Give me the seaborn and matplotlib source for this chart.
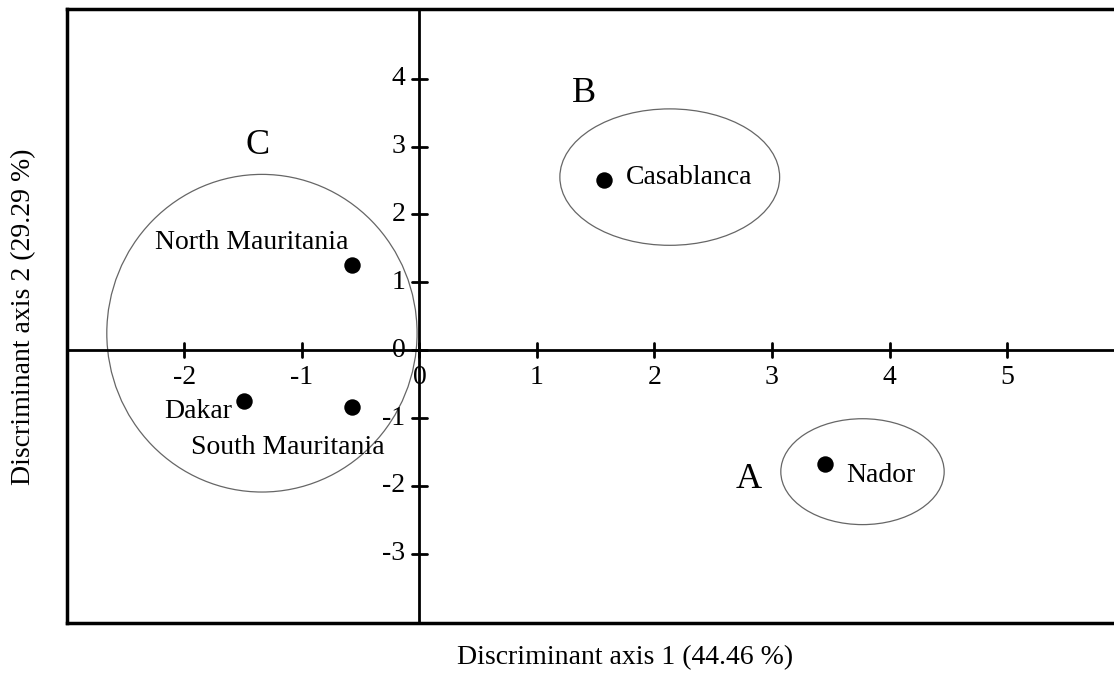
import matplotlib
matplotlib.use("Agg")
import matplotlib.pyplot as plt
from matplotlib.patches import Ellipse
import seaborn as sns
import pandas as pd

# Data
sites = ["Casablanca", "Nador", "North Mauritania", "South Mauritania", "Dakar"]
axis1 = [1.57, 3.45, -0.57, -0.57, -1.49]
axis2 = [2.50, -1.68, 1.25, -0.84, -0.75]

groups = ["A", "B", "C"]
ell_cx = [3.77, 2.13, -1.34]
ell_cy = [-1.79, 2.55, 0.25]
ell_w = [1.39, 1.87, 2.64]
ell_h = [1.56, 2.01, 4.68]

x_ticks = [-2, -1, 0, 1, 2, 3, 4, 5]
y_ticks = [-3, -2, -1, 0, 1, 2, 3, 4]

df = pd.DataFrame({"site": sites, "x": axis1, "y": axis2})

sns.set_style("ticks")
plt.rcParams["font.family"] = ["Liberation Serif", "DejaVu Serif"]
plt.rcParams["text.color"] = "black"
plt.rcParams["axes.labelcolor"] = "black"

fig = plt.figure(figsize=(11.14, 6.75), dpi=100)
ax = fig.add_axes([0.060, 0.077, 0.940, 0.910])

sns.scatterplot(data=df, x="x", y="y", color="black", s=140, edgecolor="black",
                linewidth=0, ax=ax, zorder=5, legend=False)

for cx, cy, w, h in zip(ell_cx, ell_cy, ell_w, ell_h):
    ax.add_patch(Ellipse((cx, cy), w, h, fill=False, edgecolor="#666666", lw=0.9, zorder=3))

fs = 20
# site labels
ax.text(1.76, 2.55, "Casablanca", fontsize=fs, va="center", ha="left")
ax.text(3.63, -1.85, "Nador", fontsize=fs, va="center", ha="left")
ax.text(-0.60, 1.59, "North Mauritania", fontsize=fs, va="center", ha="right")
ax.text(-2.17, -0.91, "Dakar", fontsize=fs, va="center", ha="left")
ax.text(-0.30, -1.44, "South Mauritania", fontsize=fs, va="center", ha="right")

# group letters
ax.text(2.80, -1.91, "A", fontsize=26, va="center", ha="center")
ax.text(1.40, 3.78, "B", fontsize=26, va="center", ha="center")
ax.text(-1.38, 3.01, "C", fontsize=26, va="center", ha="center")

ax.set_xlim(-3.0, 5.91)
ax.set_ylim(-4.02, 5.03)

# central axes lines with ticks
ax.axhline(0, color="black", lw=2, zorder=4)
ax.axvline(0, color="black", lw=2, zorder=4)
for t in x_ticks:
    ax.plot([t, t], [-0.1, 0.1], color="black", lw=2, zorder=4)
    ax.text(t, -0.22, str(t), fontsize=fs, ha="center", va="top")
for t in y_ticks:
    ax.plot([-0.065, 0.065], [t, t], color="black", lw=2, zorder=4)
    ax.text(-0.12, t, str(t), fontsize=fs, ha="right", va="center")

ax.set_xticks([])
ax.set_yticks([])
ax.set_xlabel("")
ax.set_ylabel("")
for side in ["left", "top", "bottom"]:
    ax.spines[side].set_linewidth(2.5)
    ax.spines[side].set_color("black")
ax.spines["right"].set_visible(False)

fig.text(625 / 1114, 1 - 658 / 675, "Discriminant axis 1 (44.46 %)", fontsize=fs,
         ha="center", va="center")
fig.text(24 / 1114, 1 - 317 / 675, "Discriminant axis 2 (29.29 %)", fontsize=fs,
         ha="center", va="center", rotation=90)

fig.savefig("out.png", dpi=100)
